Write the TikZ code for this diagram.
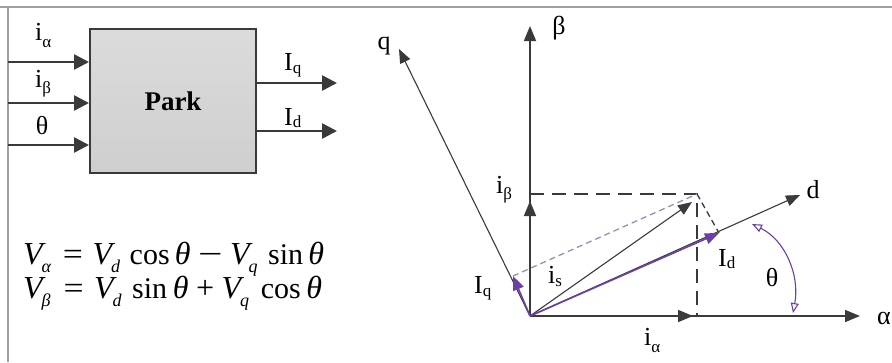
\documentclass[tikz,border=0pt]{standalone}
\usepackage{fontspec}
\usepackage{graphicx}
\setmainfont{Liberation Serif}
\usetikzlibrary{arrows.meta}
\definecolor{ink}{HTML}{3A3A3A}
\definecolor{vio}{HTML}{6A3FA8}
\definecolor{lvio}{HTML}{9C8CB8}
\definecolor{frame}{HTML}{A0A0A0}
\newcommand\lsub[2][-3pt]{\raisebox{#1}{\fontsize{17}{17}\selectfont #2}}
\newcommand\esub[1]{\kern-1pt\raisebox{-8pt}{\fontsize{18}{18}\selectfont\itshape #1}}
\newcommand\ev[1]{{\fontsize{32}{34}\selectfont\itshape #1}}
\newcommand\gap[1]{\hspace{1pt plus #1fil}}
\newcommand\eqop[2]{\scalebox{#1}[1]{{\fontsize{31}{33}\selectfont #2}}}
\begin{document}
\begin{tikzpicture}[x=1pt,y=-1pt,
  lbl/.style={font=\fontsize{26}{28}\selectfont, inner sep=0pt},
  eqn/.style={font=\fontsize{30}{32}\selectfont, inner sep=0pt, anchor=base west},
  bigarrow/.style={draw=ink, line width=2.6pt, -{Triangle[length=15pt,width=15pt]}},
  axisarrow/.style={draw=ink, line width=1.6pt, -{Triangle[length=15pt,width=12pt]}},
  thinarrow/.style={draw=ink, line width=1.1pt, -{Triangle[length=14pt,width=11pt]}},
  violarrow/.style={draw=vio, line width=1.6pt, -{Triangle[length=14pt,width=11pt]}},
  dashline/.style={draw=ink, line width=1.3pt, dash pattern=on 14pt off 8pt},
  parkbox/.style={draw=ink, line width=2pt, top color=gray!28, bottom color=gray!38,
    minimum width=166pt, minimum height=144pt, font=\fontsize{27}{30}\selectfont\bfseries}
]
\useasboundingbox (0,0) rectangle (892,362);
\fill[white] (0,0) rectangle (892,362);
\draw[frame, line width=1.6pt] (0,7) -- (892,7);
\draw[frame, line width=1.6pt] (8,7) -- (8,362);

% ---- Park block ----
\node[parkbox] (park) at (173,101) {Park};
\coordinate (ina) at (8,62);
\coordinate (inb) at (8,103);
\coordinate (inc) at (8,145);
\draw[bigarrow] (ina) -- (ina -| park.west);
\draw[bigarrow] (inb) -- (inb -| park.west);
\draw[bigarrow] (inc) -- (inc -| park.west);
\node[lbl, anchor=base west] (lia) at (35,40) {i\lsub[-7pt]{α}};
\node[lbl, anchor=base west] (lib) at (35,87) {i\lsub[-6pt]{β}};
\node[lbl] (lth) at (42,126) {θ};
\coordinate (outq) at (337,83);
\coordinate (outd) at (337,131);
\draw[bigarrow] (outq -| park.east) -- (outq);
\draw[bigarrow] (outd -| park.east) -- (outd);
\node[lbl, anchor=base west] (loq) at (284,70) {I\lsub{q}};
\node[lbl, anchor=base west] (lod) at (284,125) {I\lsub[-2pt]{d}};

% ---- equations ----
\node[eqn] (eq1) at (23,264)
  {\hbox to 301pt{\ev{V}\esub{α}\gap{1}\eqop{1.15}{=}\gap{0.8}\ev{V}\esub{d}\gap{0.8}cos\gap{0.4}\ev{θ}\gap{0.6}\eqop{1.4}{−}\gap{0.6}\ev{V}\esub{q}\gap{0.9}sin\gap{0.4}\ev{θ}}};
\node[eqn] (eq2) at (23,298)
  {\hbox to 299pt{\ev{V}\esub{β}\gap{1}\eqop{1.15}{=}\gap{0.8}\ev{V}\esub{d}\gap{0.8}sin\gap{0.4}\ev{θ}\gap{0.4}\ev{+}\gap{0.4}\ev{V}\esub{q}\gap{0.9}cos\gap{0.4}\ev{θ}}};

% ---- vector diagram ----
\coordinate (O) at (530,316);
\coordinate (aEnd) at (860,316);
\coordinate (bEnd) at (530,26);
\coordinate (qEnd) at (399,49);
\coordinate (dEnd) at (800,195);
\coordinate (P) at (697,194);
\coordinate (Pb) at (530,194);
\coordinate (Pa) at (697,316);
\coordinate (ID) at (719,233);
\coordinate (IQ) at (513,276);

\draw[dashline] (Pb) -- (P) -- (Pa);
\draw[draw=ink, line width=1.3pt, dash pattern=on 6pt off 4pt] (P) -- (ID);
\draw[draw=lvio, line width=1.3pt, dash pattern=on 6pt off 4pt] (IQ) -- (P);

\draw[axisarrow] (O) -- (aEnd);
\draw[axisarrow] (O) -- (bEnd);
\draw[thinarrow] (O) -- (qEnd);
\draw[thinarrow] (O) -- (dEnd);
\draw[axisarrow] (O) -- (530,201);
\draw[axisarrow] (O) -- (693,316);
\draw[thinarrow] (O) -- (692,202);
\draw[violarrow] (O) -- (ID);
\draw[violarrow] (O) -- (IQ);

\draw[vio, line width=1.1pt, {Triangle[open,length=10pt,width=8pt]}-{Triangle[open,length=10pt,width=8pt]}]
  (752,224) .. controls (785,240) and (800,275) .. (793,313);

\node[lbl] (lq) at (384,46) {q};
\node[lbl] (lb) at (559,28) {β};
\node[lbl] (ld) at (813,190) {d};
\node[lbl] (lal) at (884,318) {α};
\node[lbl, anchor=base west] (lib2) at (496,193) {i\lsub[-6pt]{β}};
\node[lbl, anchor=base west] (lis) at (548,283) {i\lsub{s}};
\node[lbl, anchor=base west] (lId) at (718,266) {I\lsub[-2pt]{d}};
\node[lbl, anchor=base west] (lIq) at (474,293) {I\lsub{q}};
\node[lbl] (lth2) at (772,278) {θ};
\node[lbl, anchor=base west] (lia2) at (644,345) {i\lsub[-7pt]{α}};
\end{tikzpicture}
\end{document}
